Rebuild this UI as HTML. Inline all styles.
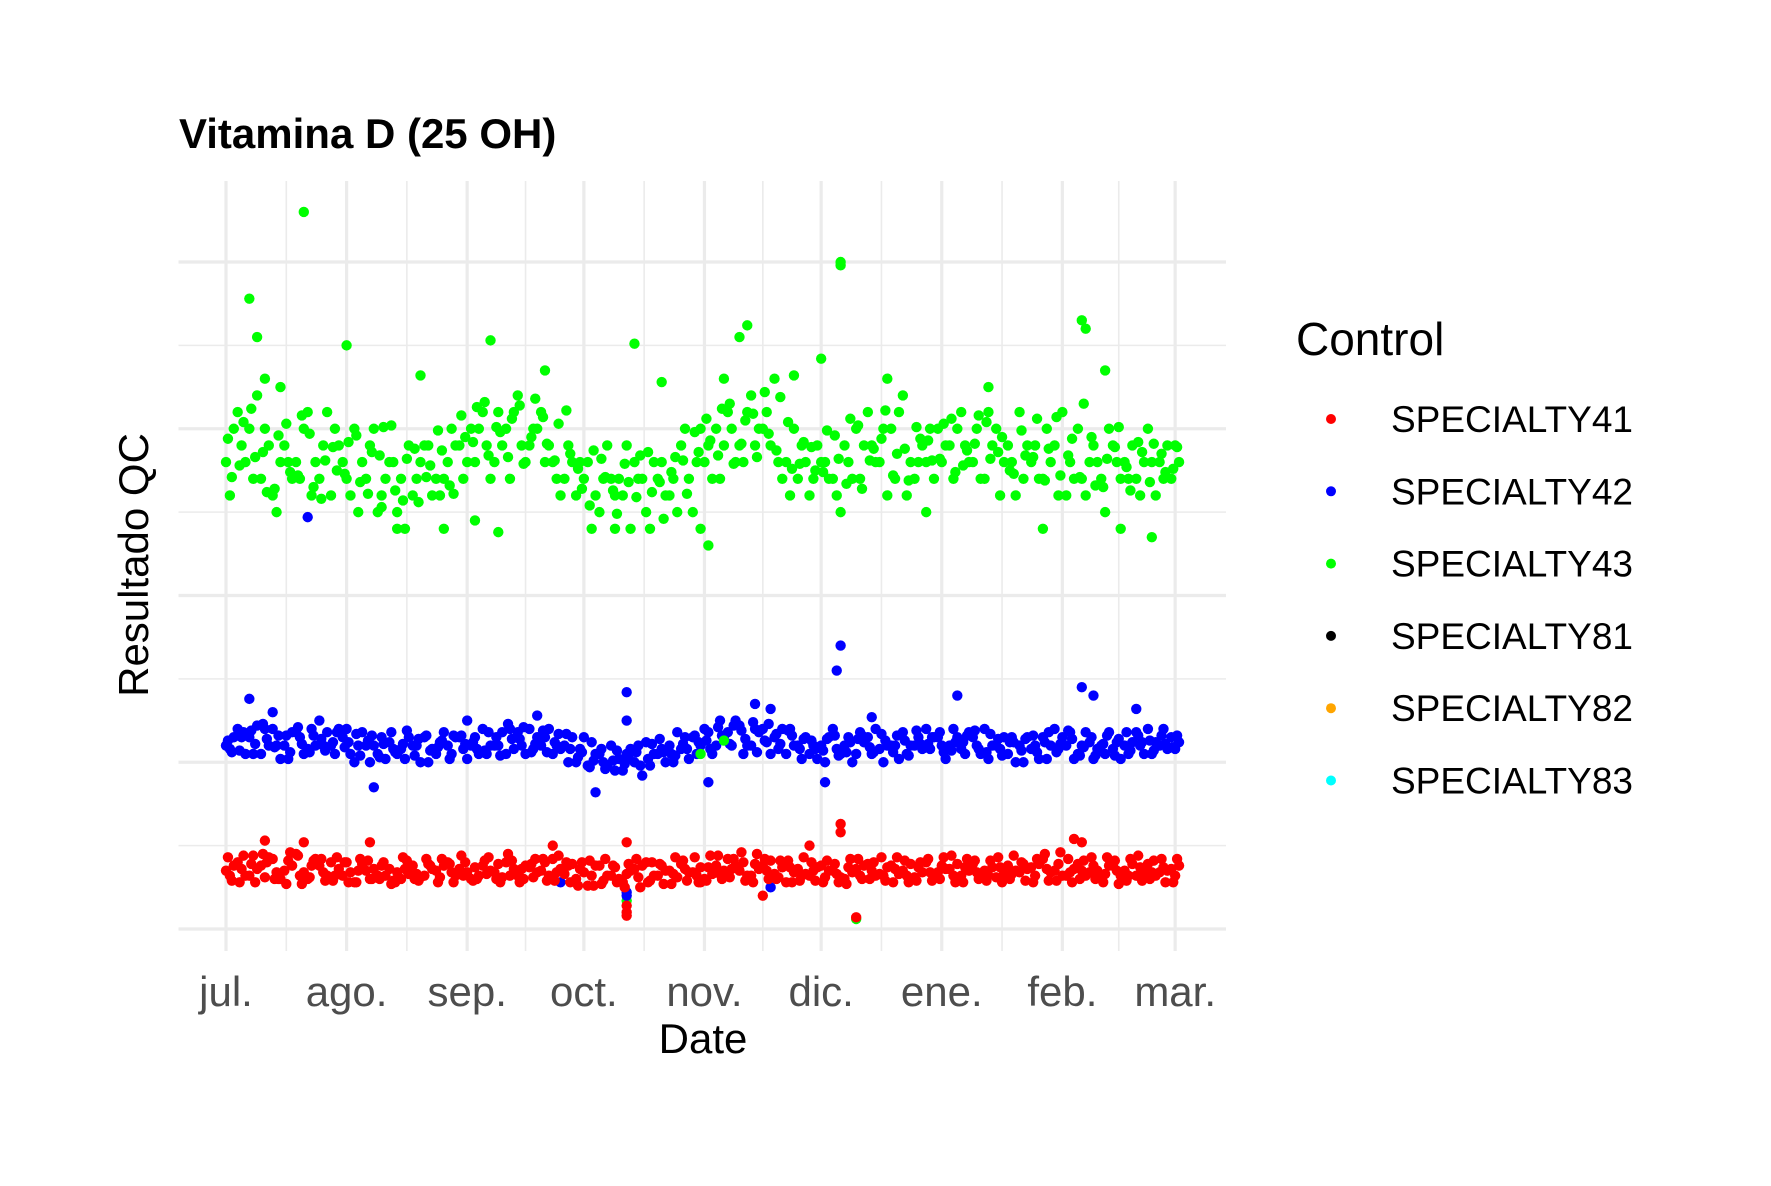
<!DOCTYPE html>
<html><head><meta charset="utf-8"><style>
html,body{margin:0;padding:0;background:#fff;}
svg text{font-family:"Liberation Sans",Arial,sans-serif;}
</style></head><body>
<svg id="chart" width="1771" height="1181" viewBox="0 0 1771 1181" xmlns="http://www.w3.org/2000/svg">
<rect width="1771" height="1181" fill="#fff"/>
<g id="grid"></g>
<g id="points"></g>
<g id="xticks"></g>
<text x="179" y="148" font-size="42" font-weight="bold" fill="#000">Vitamina D (25 OH)</text>
<text x="703" y="1053" font-size="42" text-anchor="middle" fill="#000">Date</text>
<text transform="translate(148,565) rotate(-90)" font-size="42" text-anchor="middle" fill="#000">Resultado QC</text>
<g id="legend">
<text x="1296" y="355" font-size="46" fill="#000">Control</text>
</g>
</svg>
<script>
const monthLabels=["jul.","ago.","sep.","oct.","nov.","dic.","ene.","feb.","mar."];
const monthDays=[0,31,62,92,123,153,184,215,244];
const yMajor=[0,10,20,30,40];
const yMinor=[5,15,25,35];
const legendNames=["SPECIALTY41","SPECIALTY42","SPECIALTY43","SPECIALTY81","SPECIALTY82","SPECIALTY83"];
const legendColors=["#ff0000","#0000ff","#00ff00","#000000","#ffa500","#00ffff"];
const baseDays=[0,3,6,9,12,15,18,21,24,27,30,33,36,39,42,45,48,51,54,57,60,63,66,69,72,75,78,81,84,87,90,93,96,99,102,105,108,111,114,117,120,123,126,129,132,135,138,141,144,147,150,153,156,159,162,165,168,171,174,177,180,183,186,189,192,195,198,201,204,207,210,213,216,219,222,225,228,231,234,237,240,243];
const greenA=[28,31,30,27,26,29,28,31,27,26,28,30,27,25,28,27,26,29,27,28,29,30,31,28,30,32,29,31,28,27,26,28,25,27,26,28,25,27,26,29,25,28,30,31,29,32,30,33,28,27,26,28,27,29,30,31,28,30,32,27,28,30,29,31,28,27,30,29,31,28,27,29,26,30,28,27,29,28,27,30,28,27];
const greenB=[26,29,27,30,25,28,27,26,29,30,27,25,29,26,28,24,27,29,26,30,27,28,29,31,27,29,30,28,27,29,28,24,27,26,29,27,24,28,27,30,28,29,27,30,28,29,31,28,26,29,27,28,26,28,27,29,30,27,26,28,30,28,27,29,30,31,26,28,27,29,30,26,28,27,29,25,28,27,26,28,27,29];
const greenC=[30,28,32,29,28,27,30,28,31,29,26,28,30,27,25,29,28,26,27,29,28,30,27,29,31,28,30,29,26,28,27,26,29,27,24,27,28,26,25,27,30,27,29,28,31,30,29,27,30,28,29,27,25,27,29,28,26,31,28,29,27,29,30,28,27,29,28,26,29,27,28,31,27,26,28,30,27,29,28,26,29,28];
const greenD=[29.4,27.8,31.2,28.6,26.4,30.3,27.2,29.7,25.8,28.9,27.3,29.6,26.1,28.4,30.2,25.7,28.8,27.1,29.9,26.6,30.8,29.2,31.6,30.1,28.3,31.4,29.5,30.7,28.1,31.1,27.6,25.4,28.2,26.3,27.9,25.9,28.6,26.8,27.4,28.1,29.8,30.6,28.4,31.5,29.1,30.9,32.2,28.7,30.4,27.9,28.9,27.4,29.6,26.7,30.2,28.1,29.4,27.2,28.8,30.1,29.3,28.2,30.6,27.8,29.1,30.4,28.6,27.5,29.9,28.3,26.9,30.7,28.4,27.1,29.5,26.5,28.9,27.7,29.2,26.8,28.5,27.6];
const greenE=[27.1,30.4,28.3,26.2,29.6,27.4,30.8,26.5,28.1,27.5,29.2,26.8,28.6,30.1,26.3,28.2,25.6,27.8,28.7,26.1,29.5,31.3,28.4,29.8,30.6,27.9,31.8,29.1,30.3,28.5,26.4,28.7,27.1,24.9,26.8,28.4,26.2,24.6,28.3,26.1,28.6,29.3,31.2,27.9,30.5,28.3,29.7,31.9,27.6,29.2,27.5,29.9,28.2,30.6,26.4,28.8,31.1,28.5,26.9,29.4,28.1,30.3,27.4,28.7,30.8,28.2,29.5,27.3,28.4,30.6,28.8,27.2,29.4,31.5,26.6,28.2,30.1,26.3,28.6,29.1,27.4,28.9];
const blueA=[11,12,11.5,10.5,12,11,11.8,10.8,12.5,11,11.5,10,11,10.5,11.2,10.8,11,11.5,10.5,11,11.5,11,12,11,10.5,11.8,12,11,10.5,11,10,9.8,10.5,11,9.5,10,11.2,10.5,11,10.8,11.5,12,11,11.8,12.2,11,12,11.5,10.5,11,10.5,11,12,11,10.5,11.5,10.8,11,11.8,11,12,11.5,11,10.8,11.5,12,11,10.5,11,10.8,11.5,12,11,10.5,11.2,11,10.8,11,11.8,12,11,11.5];
const blueB=[10.8,11.5,10.5,12,11,10.2,11.5,12,11,10.5,12,11,10,11.5,10.8,10.2,11,10,11.2,10.5,10.8,11.5,10.5,11,12,11,10.8,11.5,11,10,10.8,11.2,10,9.5,10.5,11,9.8,10.8,10,11.5,10.5,11.8,12.5,11,10.5,12,11.2,10.8,12,10.2,11,10,10.8,11.5,11.8,10.5,10,11,10.5,11.5,10.8,11,12,10.5,11,10.2,10.8,11.5,10,11,10.2,10.8,11.8,11,10.2,10.5,11.2,10.5,11,10.5,12,10.8];
const blueC=[11.5,10.5,12.2,11,10.2,11.8,10.5,11,11.8,12,10.5,11.8,11,10.2,10.5,11.5,10,10.8,11.8,11.5,10.2,10.5,11,11.8,10.8,10.5,11.5,12,10.8,11.5,11.5,10.5,9.8,10.2,10.8,9.2,10.5,10,11.8,10.2,11,10.5,11.5,12.5,11,11.8,10.5,12,11,11.5,10.2,11.5,10.5,10,11.2,12,11,10.2,11,10.8,11.5,10.2,11.5,11.8,10.5,11,11.5,10,11.5,10.2,11,11.5,10.2,11.8,10.8,11.8,10.2,11.2,10.5,11.2,10.8,11.2];
const blueD=[11.3,10.7,11.9,12.3,10.9,11.6,12.1,10.6,11.4,11.2,10.9,11.7,11.3,10.3,11.8,11.1,10.4,11.6,10.9,10.2,11.6,11.2,10.7,11.5,12.3,11.4,10.6,11.9,11.2,11.7,10.3,9.7,10.8,10.1,9.9,10.6,10.2,11.4,10.5,11.1,11.6,11.3,12.1,11.1,11.9,12.4,11.3,11.7,11.9,10.8,11.3,10.7,11.6,10.6,11.4,10.9,11.7,10.6,11.3,11.9,11.1,11.8,10.7,11.2,11.9,10.6,11.4,11.2,10.7,11.6,11.2,10.6,11.9,10.4,11.5,11.1,10.4,11.8,11.6,11.3,11.6,10.9];
const blueE=[10.6,11.8,11.1,11.4,11.6,10.6,11.1,11.6,10.7,11.8,11.2,10.4,11.6,11.1,10.6,11.9,11.4,10.7,11.3,11.6,11.1,10.8,11.8,10.4,11.4,12.1,11.1,10.6,11.7,10.8,10.6,10.1,9.6,10.7,10.3,9.8,11.1,10.6,10.4,10.8,11.2,10.8,11.6,12.2,11.4,10.6,12.3,11.1,11.6,11.4,10.8,11.4,10.4,11.2,11.6,10.6,11.3,11.6,10.4,11.1,11.5,10.6,11.2,11.6,10.8,11.7,10.4,11.2,11.4,10.6,11.8,11.1,11.4,10.9,10.4,11.6,11.4,10.7,11.2,10.7,11.1,11.6];
const redA=[3.5,4,3.2,3.8,4.2,3.5,4.5,3,3.8,4,3.2,2.8,3.5,3.2,3.6,3,3.8,3.2,3.5,4,3.6,3,3.8,3.4,4,3.2,3.7,3.5,4.2,3.3,3,2.6,3.8,3.2,2.8,3.6,4,3.2,3.5,3.9,3.4,3,3.8,4.2,3.5,3.2,3.8,3.3,2.8,3.6,3.2,3.8,3.5,3,3.6,3.9,3.3,3.8,3.5,3.1,4,3.4,3.6,3.2,3.9,3.5,3.1,3.8,3.4,3.7,4.2,3.5,3.2,3.9,3.4,3.1,3.8,3.5,3.2,3.9,3.4,3.6];
const redB=[3.2,3.6,4.4,3.1,3.4,4.1,3.2,3.8,3.4,3.2,4,3.5,3,3.8,2.9,3.6,3.3,3.9,3.1,3.4,3.2,3.7,3.3,3.9,3.2,3.6,3.1,4,3.4,3.8,3.6,3.2,2.9,3.7,3.3,3.1,2.9,3.8,3.3,3.6,3.2,3.7,3.3,3.6,4,3.9,3.5,3.1,3.7,3.2,3.5,3.1,3.3,3.7,3.2,3.5,3.2,3.6,3.2,3.7,3.4,3.8,3.2,3.7,3.4,3.2,3.7,3.3,3.9,3.2,3.6,3.9,3.4,3.5,3.8,3.3,3.5,3.2,3.7,3.4,3.7,3.2];
const redC=[3.8,3.2,3.6,4.3,3,3.8,3.4,4.2,3.2,3.6,3.4,3.9,3.6,3.2,3.4,3.3,3.1,3.6,3.8,3.2,3.4,3.2,3.5,3.1,3.6,3.8,3.4,3.2,3.6,3.9,3.4,3.8,3.2,3,3.5,3.8,3.2,3.5,3.1,3.4,3.7,3.3,3.5,3.8,3.2,3.6,4.1,3.7,3.4,3.3,3.7,3.5,3.1,3.4,3.8,3.2,3.7,3.3,3.9,3.4,3.2,3.6,3.9,3.5,3.1,3.7,3.3,3.5,3.6,3.9,3.4,3.2,3.6,3.2,3.5,3.8,3.2,3.9,3.4,3.2,3.5,3.8];
const redD=[4.3,2.8,3.9,4.5,3.0,2.7,4.4,3.1,4.2,2.9,4.0,2.8,4.1,3.0,2.7,4.3,3.0,4.2,2.8,3.9,4.4,2.9,4.1,3.0,4.5,2.8,3.9,4.2,2.9,4.0,2.6,4.1,2.7,3.8,2.5,4.2,2.8,3.9,2.7,4.1,4.3,2.9,4.4,3.1,4.6,2.8,4.2,3.0,4.1,2.9,4.0,2.8,3.9,2.7,4.2,3.0,4.3,2.8,4.1,2.9,4.2,3.0,4.4,2.8,4.1,2.9,4.3,3.0,4.0,2.8,4.5,2.9,4.2,3.0,4.3,2.8,4.1,2.9,4.4,3.0,4.2,2.8];
const redE=[2.9,4.4,2.8,4.0,3.0,4.6,2.7,4.1,2.9,4.3,2.8,4.2,3.0,4.0,2.8,4.1,2.9,3.8,4.2,2.8,4.0,3.0,4.3,2.8,4.1,3.0,4.2,2.9,4.4,2.8,4.0,2.6,4.2,2.8,3.9,2.5,4.0,2.7,4.3,2.9,2.8,4.4,3.0,4.2,2.9,4.5,3.0,4.1,2.8,4.3,2.9,4.1,2.8,4.2,3.0,4.0,2.9,4.3,2.8,4.0,2.9,4.3,2.8,4.2,3.0,4.1,2.8,4.4,2.9,4.2,2.9,4.6,2.8,4.1,3.0,4.3,2.7,4.2,2.9,4.1,2.8,4.2];
const greenExtraDays=[20,158,158,6,8,220,221,31,68,105,132,134,153,124,122,44,56,180,210,230,238,64,70,40,100,14,10,50,82,112,128,146,170,196,226];
const greenExtraVals=[43,40,39.8,37.8,35.5,36.5,36,35,35.3,35.1,35.5,36.2,34.2,23,24,24,24,25,24,24,23.5,24.5,23.8,25.3,24,32.5,33,33.2,33.5,32.8,33,33.2,33,32.5,33.5];
const blueExtraDays=[158,157,6,103,188,220,223,234,21,38,95,124,154,103,80,12,136,140,62,166];
const blueExtraVals=[17,15.5,13.8,14.2,14,14.5,14,13.2,24.7,8.5,8.2,8.8,8.8,12.5,12.8,13,13.5,13.2,12.5,12.7];
const redExtraDays=[103,103,103,162,158,158,10,37,84,220,103,138,122,20,150,218];
const redExtraVals=[1.0,1.4,0.8,0.7,6.3,5.8,5.3,5.2,5.0,5.2,5.2,2.0,2.8,5.2,5.0,5.4];
const strayDays=[103,103,103,162,140,86,122,128];
const strayVals=[1.7,2.2,2.0,0.6,2.5,2.8,10.5,11.3];
const strayCols=["#00ff00","#0000ff","#0000ff","#00ff00","#0000ff","#0000ff","#00ff00","#00ff00"];

const NS="http://www.w3.org/2000/svg";
const X0=178.5,X1=1226,Y0=181,Y1=951;
function xs(d){return 226+d*3.89;}
function ys(v){return 929-v*16.675;}
function mk(tag,attrs,parent){const e=document.createElementNS(NS,tag);for(const k in attrs)e.setAttribute(k,attrs[k]);parent.appendChild(e);return e;}
const grid=document.getElementById('grid');
yMinor.forEach(v=>{const l=mk('line',{x1:X0,x2:X1,y1:ys(v),y2:ys(v),stroke:'#ebebeb','stroke-width':1.6},grid);

});
for(let i=0;i<monthDays.length-1;i++){const d=(monthDays[i]+monthDays[i+1])/2;const l=mk('line',{x1:xs(d),x2:xs(d),y1:Y0,y2:Y1,stroke:'#ebebeb','stroke-width':1.6},grid);

}
yMajor.forEach(v=>{const l=mk('line',{x1:X0,x2:X1,y1:ys(v),y2:ys(v),stroke:'#ebebeb','stroke-width':3.2},grid);

});
const xt=document.getElementById('xticks');
monthDays.forEach((d,i)=>{const l=mk('line',{x1:xs(d),x2:xs(d),y1:Y0,y2:Y1,stroke:'#ebebeb','stroke-width':3.2},grid);


const t=mk('text',{x:xs(d),y:1006,'font-size':42,'text-anchor':'middle',fill:'#4d4d4d'},xt);t.textContent=monthLabels[i];

});
const pts=document.getElementById('points');
function dot(d,v,c,name){const e=mk('circle',{cx:xs(d),cy:ys(v),r:5.2,fill:c},pts);

}
function series(vals,off,c,name){vals.forEach((v,i)=>dot(baseDays[i]+off,v,c,name));}
const G='#00ff00',B='#0000ff',R='#ff0000';
series(greenA,0,G,'point-specialty43');series(greenB,1,G,'point-specialty43');series(greenC,2,G,'point-specialty43');series(greenD,0.5,G,'point-specialty43');series(greenE,1.5,G,'point-specialty43');
greenExtraDays.forEach((d,i)=>dot(d,greenExtraVals[i],G,'point-specialty43'));
series(blueA,0,B,'point-specialty42');series(blueB,1,B,'point-specialty42');series(blueC,2,B,'point-specialty42');series(blueD,0.5,B,'point-specialty42');series(blueE,1.5,B,'point-specialty42');
blueExtraDays.forEach((d,i)=>dot(d,blueExtraVals[i],B,'point-specialty42'));
strayDays.forEach((d,i)=>dot(d,strayVals[i],strayCols[i],'point-stray'));
series(redA,0,R,'point-specialty41');series(redB,1,R,'point-specialty41');series(redC,2,R,'point-specialty41');series(redD,0.5,R,'point-specialty41');series(redE,1.5,R,'point-specialty41');
redExtraDays.forEach((d,i)=>dot(d,redExtraVals[i],R,'point-specialty41'));
const lg=document.getElementById('legend');
legendNames.forEach((n,i)=>{const y=419+i*72.3;
const g=mk('g',{},lg);


mk('circle',{cx:1331,cy:y,r:5,fill:legendColors[i]},g);
const t=mk('text',{x:1391,y:y+13,'font-size':37,fill:'#000'},g);t.textContent=n;});
</script>
</body></html>
